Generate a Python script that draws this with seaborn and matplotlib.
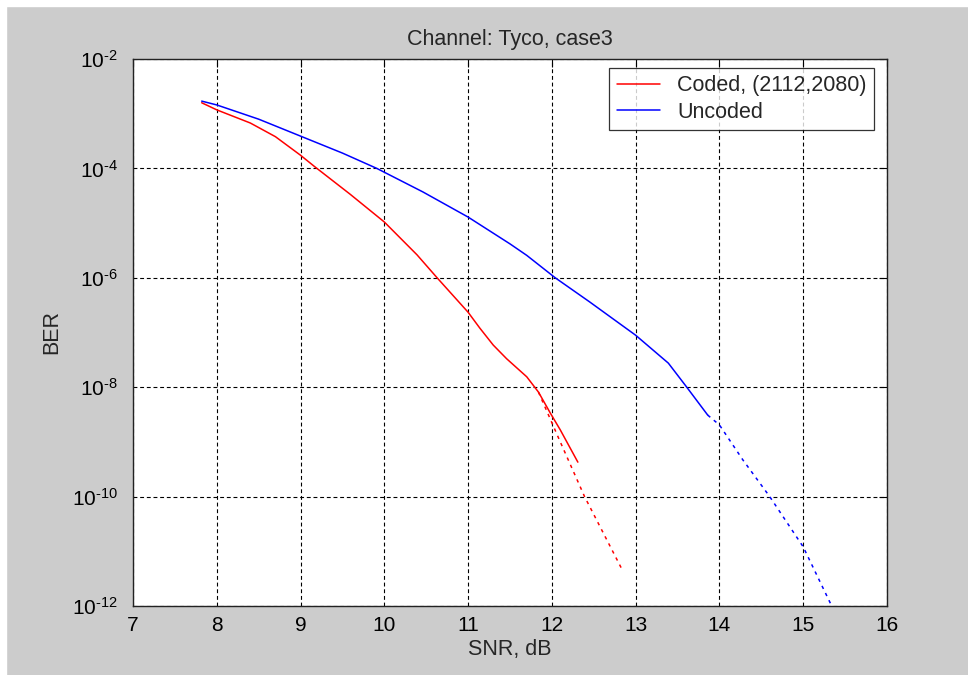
import numpy as np
import pandas as pd
import matplotlib
matplotlib.use("Agg")
import matplotlib.pyplot as plt
from matplotlib.patches import Rectangle
from matplotlib.ticker import FixedLocator, FuncFormatter
import seaborn as sns

# data (SNR in dB, log10 of BER)
coded_snr = [7.82, 8.0, 8.4, 8.7, 9.0, 9.17, 9.59, 10.0, 10.39, 10.63, 11.0, 11.14, 11.3, 11.46, 11.7, 11.84, 11.98, 12.1, 12.31]
coded_logber = [-2.80, -2.93, -3.17, -3.42, -3.76, -3.97, -4.47, -4.98, -5.58, -6.0, -6.63, -6.92, -7.23, -7.48, -7.81, -8.09, -8.47, -8.78, -9.37]
coded_ext_snr = [11.84, 12.1, 12.39, 12.84]
coded_ext_logber = [-8.09, -9.0, -10.0, -11.34]

uncoded_snr = [7.82, 8.0, 8.5, 9.0, 9.5, 9.91, 10.46, 11.0, 11.5, 11.7, 12.04, 12.45, 13.0, 13.39, 13.61, 13.86]
uncoded_logber = [-2.77, -2.84, -3.10, -3.41, -3.72, -4.0, -4.43, -4.89, -5.38, -5.59, -6.0, -6.44, -7.05, -7.56, -8.0, -8.51]
uncoded_ext_snr = [13.86, 14.0, 14.28, 14.6, 15.0, 15.34]
uncoded_ext_logber = [-8.51, -8.69, -9.33, -10.0, -10.92, -12.0]

x_ticks = [7, 8, 9, 10, 11, 12, 13, 14, 15, 16]
y_ticks = [1e-12, 1e-10, 1e-8, 1e-6, 1e-4, 1e-2]

sns.set_style("white")
plt.rcParams["font.family"] = ["Liberation Sans", "DejaVu Sans"]
plt.rcParams["mathtext.default"] = "regular"
plt.rcParams["mathtext.fontset"] = "custom"
plt.rcParams["mathtext.rm"] = "Liberation Sans"

grey = "#cccccc"
fig = plt.figure(figsize=(9.68, 6.75), dpi=100, facecolor=grey)
# thin white strip on top and left like the screenshot
fig.patches.append(Rectangle((0, 0), 6 / 968, 1, transform=fig.transFigure, color="white", zorder=-1))
fig.patches.append(Rectangle((0, 1 - 6 / 675), 1, 6 / 675, transform=fig.transFigure, color="white", zorder=-1))

ax = fig.add_axes([133 / 968, 69 / 675, 754 / 968, 547 / 675])
ax.set_facecolor("white")

solid = pd.concat([
    pd.DataFrame({"SNR": coded_snr, "BER": 10.0 ** np.array(coded_logber), "curve": "Coded, (2112,2080)"}),
    pd.DataFrame({"SNR": uncoded_snr, "BER": 10.0 ** np.array(uncoded_logber), "curve": "Uncoded"}),
])
pal = {"Coded, (2112,2080)": "#ff0000", "Uncoded": "#0000ff"}
sns.lineplot(data=solid, x="SNR", y="BER", hue="curve", palette=pal, lw=1.1,
             sort=False, estimator=None, ax=ax, zorder=3)

ext = pd.DataFrame({"SNR": coded_ext_snr, "BER": 10.0 ** np.array(coded_ext_logber)})
sns.lineplot(data=ext, x="SNR", y="BER", color="#ff0000", lw=1.1, ax=ax,
             sort=False, estimator=None, zorder=3)
ax.lines[-1].set_dashes((2.2, 3))
ext2 = pd.DataFrame({"SNR": uncoded_ext_snr, "BER": 10.0 ** np.array(uncoded_ext_logber)})
sns.lineplot(data=ext2, x="SNR", y="BER", color="#0000ff", lw=1.1, ax=ax,
             sort=False, estimator=None, zorder=3)
ax.lines[-1].set_dashes((2.2, 3))

ax.set_yscale("log")
ax.set_xlim(7, 16)
ax.set_ylim(1e-12, 1e-2)
ax.xaxis.set_major_locator(FixedLocator(x_ticks))
ax.yaxis.set_major_locator(FixedLocator(y_ticks))
ax.yaxis.set_minor_locator(FixedLocator([]))
# matlab prints the exponent with a plain hyphen
ax.yaxis.set_major_formatter(FuncFormatter(
    lambda v, p: "10$^{\u2010%d}$" % abs(round(np.log10(v)))))

ax.grid(True, color="black", lw=0.8, linestyle=(0, (3.5, 2.5)))
ax.tick_params(direction="in", length=6, width=0.8, top=True, right=True,
               labelsize=15, colors="black")
ax.tick_params(axis="x", pad=7)
ax.tick_params(axis="y", pad=11)
for s in ax.spines.values():
    s.set_color("#222222")
    s.set_linewidth(1.0)

ax.set_title("Channel: Tyco, case3", fontsize=15.5, pad=10)
ax.set_xlabel("SNR, dB", fontsize=15.5, labelpad=3)
ax.set_ylabel("BER", fontsize=15.5, labelpad=7)

leg = ax.legend(loc="upper right", fontsize=15.5, frameon=True, fancybox=False,
                edgecolor="black", handlelength=2.0, handletextpad=0.8,
                borderpad=0.35, labelspacing=0.25, borderaxespad=0,
                bbox_to_anchor=(0.983, 0.984))
leg.get_frame().set_linewidth(0.9)

fig.savefig("out.png", dpi=100, facecolor=grey)
